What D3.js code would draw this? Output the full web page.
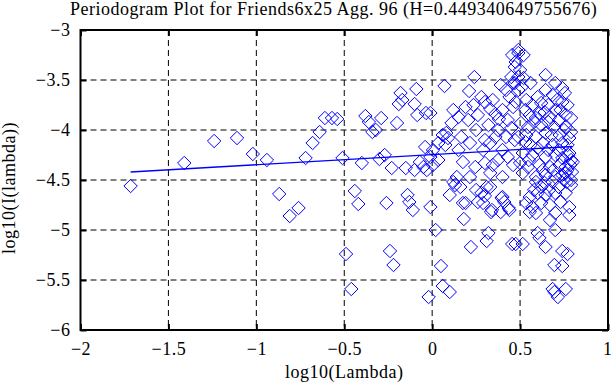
<!DOCTYPE html>
<html>
<head>
<meta charset="utf-8">
<title>Periodogram Plot</title>
<script src="https://d3js.org/d3.v7.min.js"></script>
<style>
  body { margin: 0; background: #fff; }
  text { font-family: "Liberation Serif", "Times New Roman", serif; }
</style>
</head>
<body>
<div id="chart"></div>
<script>
var titleText = "Periodogram Plot for Friends6x25 Agg. 96 (H=0.449340649755676)";
var xTicks = [-2, -1.5, -1, -0.5, 0, 0.5, 1];
var yTicks = [-6, -5.5, -5, -4.5, -4, -3.5, -3];

// fitted line end points
var fitX = [-1.715, 0.797];
var fitY = [-4.42, -4.165];

// periodogram points [log10(lambda), log10(I(lambda))]
var leftPts = [
  [-1.715,-4.56],[-1.41,-4.33],[-1.24,-4.11],[-1.11,-4.08],[-1.02,-4.24],[-0.94,-4.30],
  [-0.87,-4.64],[-0.81,-4.86],[-0.76,-4.78],[-0.72,-4.28],[-0.68,-4.13],[-0.64,-4.02],
  [-0.61,-3.88],[-0.57,-3.88],[-0.54,-3.89],[-0.51,-4.28],[-0.49,-5.24],[-0.46,-5.59],
  [-0.44,-4.61],[-0.42,-4.74],[-0.40,-4.33],[-0.38,-3.86],[-0.36,-3.92],[-0.34,-4.02],
  [-0.32,-4.00],[-0.30,-4.29],[-0.29,-3.88],[-0.27,-4.25],[-0.26,-4.73],[-0.24,-5.21],
  [-0.23,-4.38],[-0.22,-5.35],[-0.20,-3.93],[-0.19,-3.74],[-0.18,-3.63],[-0.17,-3.70],
  [-0.15,-4.38],[-0.14,-4.65],[-0.13,-4.72],[-0.11,-4.80],[-0.10,-3.74],[-0.09,-3.59],
  [-0.085,-3.85],[-0.07,-4.32],[-0.05,-4.37],[-0.04,-4.17],[-0.035,-3.83],[-0.01,-4.77],
  [-0.02,-5.67],[-0.01,-3.83],[-0.03,-4.40],[-0.10,-4.40]
];
var midPts = [
  [0.02,-5.00],[0.05,-5.36],[0.06,-5.56],[0.10,-5.62],[0.10,-4.65],[0.13,-4.55],[0.16,-4.57],
  [0.19,-4.73],[0.18,-4.89],[0.22,-5.17],[0.25,-4.60],[0.26,-4.72],[0.29,-4.73],[0.28,-4.63],
  [0.31,-4.57],[0.335,-4.82],[0.33,-4.57],[0.31,-5.11],[0.32,-5.03],[0.39,-4.82],[0.41,-4.72],
  [0.40,-4.67],[0.44,-4.80],[0.455,-5.14],
  [0.07,-3.56],[0.24,-3.47],[0.21,-3.61],[0.12,-3.80],[0.15,-3.87],[0.19,-3.77],[0.28,-3.67],
  [0.30,-3.72],[0.33,-3.79],[0.36,-3.84],[0.38,-3.89],[0.40,-3.80],[0.39,-3.55],[0.42,-3.60],
  [0.455,-3.25],[0.47,-3.37],[0.45,-3.47],[0.46,-3.53],[0.44,-3.67],[0.46,-3.77],[0.43,-3.90],
  [0.06,-4.05],[0.09,-4.08],[0.035,-4.13],[0.005,-4.20],[0.165,-4.07],[0.215,-4.13],[0.25,-4.00],
  [0.33,-4.13],[0.36,-4.07],[0.30,-4.10],[0.42,-4.07],[0.45,-3.98],[0.47,-4.10],
  [0.035,-4.30],[0.005,-4.35],[0.175,-4.32],[0.245,-4.37],[0.30,-4.33],[0.345,-4.35],[0.375,-4.30],
  [0.43,-4.27],[0.46,-4.35],[0.14,-4.47],[0.215,-4.47],[0.33,-4.43],[0.40,-4.47],[0.12,-4.52],
  [0.11,-3.93],[0.08,-4.03],[0.075,-4.15],[-0.01,-4.27],
  [0.205,-3.90],[0.26,-3.85],[0.32,-3.95],[0.375,-4.00],[0.29,-4.20],[0.40,-4.20],[0.15,-4.20],
  [0.345,-3.70],[0.235,-3.75],[0.175,-4.73],[0.30,-4.66],[0.34,-4.80],[0.395,-4.68],[0.435,-4.78]
];
var peakPts = [
  [0.49,-3.20],[0.49,-3.23],[0.52,-3.25],[0.475,-3.32],[0.50,-3.40],[0.49,-3.47],[0.52,-3.48],
  [0.47,-3.53],[0.51,-3.57],[0.475,-3.72],[0.49,-3.60]
];
var rightPts = [
  [0.56,-3.53],[0.645,-3.45],[0.70,-3.53],[0.74,-3.58],[0.645,-3.60],[0.685,-3.65],[0.755,-3.63],
  [0.60,-3.67],[0.535,-3.70],[0.57,-3.75],[0.62,-3.73],[0.74,-3.72],[0.64,-3.82],[0.70,-3.80],
  [0.76,-3.85],[0.79,-3.88],[0.555,-3.85],[0.59,-3.88],[0.67,-3.87],[0.505,-3.93],[0.545,-3.97],
  [0.62,-3.95],[0.695,-3.97],[0.76,-3.97],[0.79,-4.02],[0.49,-4.07],[0.535,-4.05],[0.59,-4.07],
  [0.645,-4.03],[0.725,-4.05],[0.78,-4.08],[0.56,-4.15],[0.63,-4.13],[0.685,-4.15],[0.74,-4.13],
  [0.78,-4.23],[0.515,-4.23],[0.57,-4.25],[0.645,-4.27],[0.70,-4.25],[0.74,-4.28],[0.79,-4.30],
  [0.50,-4.33],[0.545,-4.37],[0.61,-4.35],[0.67,-4.37],[0.725,-4.35],[0.76,-4.37],[0.80,-4.32],
  [0.515,-4.43],[0.59,-4.47],[0.645,-4.45],[0.70,-4.47],[0.76,-4.43],[0.79,-4.50],
  [0.59,-4.52],[0.64,-4.53],[0.685,-4.52],[0.79,-4.55],[0.76,-4.63],[0.555,-4.67],[0.60,-4.63],
  [0.645,-4.65],[0.70,-4.63],[0.535,-4.73],[0.57,-4.77],[0.62,-4.73],[0.67,-4.75],[0.73,-4.72],
  [0.78,-4.77],[0.555,-4.82],[0.59,-4.83],[0.70,-4.83],[0.78,-4.85],[0.67,-4.90],[0.70,-5.00],
  [0.60,-5.03],[0.61,-5.08],[0.475,-5.14],[0.515,-5.14],[0.645,-5.17],[0.74,-5.21],[0.77,-5.24],
  [0.695,-5.35],[0.74,-5.36],[0.685,-5.59],[0.76,-5.59],[0.715,-5.67],[0.695,-5.62],
  [0.53,-3.80],[0.58,-3.92],[0.61,-3.83],[0.66,-3.92],[0.72,-3.90],[0.75,-4.00],[0.68,-4.05],
  [0.60,-4.18],[0.66,-4.20],[0.72,-4.20],[0.77,-4.15],[0.53,-4.12],[0.55,-4.30],[0.63,-4.40],
  [0.69,-4.40],[0.74,-4.45],[0.77,-4.40],[0.62,-4.57],[0.72,-4.57],[0.75,-4.50],[0.665,-4.60],
  [0.58,-4.60],[0.71,-3.70],[0.66,-3.75],[0.73,-3.80],[0.77,-3.75],[0.775,-4.25],[0.785,-4.35],
  [0.795,-4.42],[0.765,-4.52]
];

var allPts = leftPts.concat(midPts, peakPts, rightPts);

var margin = {top: 30, right: 3, bottom: 55, left: 80.5},
    width = 611 - margin.left - margin.right,
    height = 385 - margin.top - margin.bottom;

var serif = "'Liberation Serif', 'Times New Roman', serif";

var svg = d3.select("#chart")
  .append("svg")
    .attr("width", 611)
    .attr("height", 385)
    .attr("font-family", serif);

var g = svg.append("g")
    .attr("transform", "translate(" + margin.left + "," + margin.top + ")");

var x = d3.scaleLinear().domain([-2, 1]).range([0, width]);
var y = d3.scaleLinear().domain([-6, -3]).range([height, 0]);

// dashed grid
g.selectAll(".vgrid")
  .data(xTicks.slice(1, -1))
  .enter().append("line")
    .attr("x1", function(d) { return x(d); })
    .attr("x2", function(d) { return x(d); })
    .attr("y1", 0).attr("y2", height)
    .attr("stroke", "#000").attr("stroke-dasharray", "6,4");
g.selectAll(".hgrid")
  .data(yTicks.slice(1, -1))
  .enter().append("line")
    .attr("y1", function(d) { return y(d); })
    .attr("y2", function(d) { return y(d); })
    .attr("x1", 0).attr("x2", width)
    .attr("stroke", "#000").attr("stroke-dasharray", "6,4");

// markers
var r = 6.7;
g.selectAll(".pt")
  .data(allPts)
  .enter().append("path")
    .attr("d", function(d) {
      var cx = x(d[0]), cy = y(d[1]);
      return "M" + cx + "," + (cy - r) + "L" + (cx + r) + "," + cy +
             "L" + cx + "," + (cy + r) + "L" + (cx - r) + "," + cy + "Z";
    })
    .attr("fill", "none")
    .attr("stroke", "#0000ff")
    .attr("stroke-width", 1);

// fitted line
g.append("path")
  .datum(d3.zip(fitX, fitY))
  .attr("d", d3.line().x(function(d) { return x(d[0]); }).y(function(d) { return y(d[1]); }))
  .attr("stroke", "#0000ff")
  .attr("stroke-width", 1.3)
  .attr("fill", "none");

// axes with inward ticks
var fmt = function(d) { return d3.format("")(d); };
var xAxis = g.append("g")
  .attr("transform", "translate(0," + height + ")")
  .call(d3.axisBottom(x).tickValues(xTicks).tickSizeInner(-6).tickSizeOuter(0).tickPadding(12).tickFormat(fmt))
  .call(function(a) { a.select(".domain").remove(); });
g.append("g")
  .call(d3.axisLeft(y).tickValues(yTicks).tickSizeInner(-6).tickSizeOuter(0).tickPadding(10).tickFormat(fmt))
  .call(function(a) { a.select(".domain").remove(); });
g.append("g")
  .call(d3.axisTop(x).tickValues(xTicks).tickSizeInner(-6).tickSizeOuter(0).tickFormat(""))
  .call(function(a) { a.select(".domain").remove(); });
g.append("g")
  .attr("transform", "translate(" + width + ",0)")
  .call(d3.axisRight(y).tickValues(yTicks).tickSizeInner(-6).tickSizeOuter(0).tickFormat(""))
  .call(function(a) { a.select(".domain").remove(); });

g.selectAll(".tick line").attr("stroke", "#000").attr("stroke-width", 2);
g.selectAll(".tick text")
  .style("font-family", serif)
  .style("font-size", "18px")
  .style("letter-spacing", "0.5px")
  .attr("fill", "#000");

// keep the last x label inside the window
xAxis.selectAll(".tick text")
  .filter(function(d) { return d === 1; })
  .attr("text-anchor", "end")
  .attr("dx", "4");

// frame
g.append("rect")
  .attr("x", 0).attr("y", 0)
  .attr("width", width).attr("height", height)
  .attr("fill", "none")
  .attr("stroke", "#000")
  .attr("stroke-width", 2);

// title and labels
svg.append("text")
  .attr("x", 70).attr("y", 15)
  .style("font-family", serif)
  .style("font-size", "18px")
  .style("letter-spacing", "0.5px")
  .text(titleText);

svg.append("text")
  .attr("x", margin.left + width / 2).attr("y", 378)
  .attr("text-anchor", "middle")
  .style("font-family", serif)
  .style("font-size", "18px")
  .style("letter-spacing", "0.5px")
  .text("log10(Lambda)");

svg.append("text")
  .attr("transform", "translate(14.5,188) rotate(-90)")
  .attr("text-anchor", "middle")
  .style("font-family", serif)
  .style("font-size", "18px")
  .style("letter-spacing", "0.5px")
  .text("log10(I(lambda))");
</script>
</body>
</html>
